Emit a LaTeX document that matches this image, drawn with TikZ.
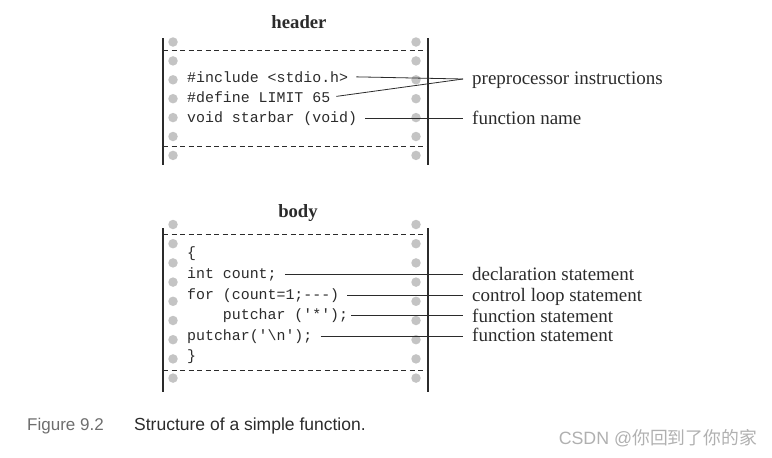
\documentclass[tikz,border=0pt]{standalone}
\usepackage{fontspec}
\setmainfont{Liberation Serif}
\setsansfont{Liberation Sans}
\setmonofont{Liberation Mono}
\newfontfamily\cjkfont{Noto Sans CJK SC}
\usetikzlibrary{positioning, calc}
\usepackage{xcolor}
\definecolor{InkDark}{HTML}{2B2B2B}
\definecolor{DotGray}{HTML}{C4C4C4}
\definecolor{CapGray}{HTML}{6E6E6E}
\tikzset{
  title/.style={font=\fontsize{18.7}{21}\selectfont\bfseries, text=InkDark, inner sep=0pt},
  code/.style={font=\fontsize{14.9}{17}\selectfont\ttfamily, text=InkDark, anchor=base west, inner sep=0pt},
  note/.style={font=\fontsize{19}{22}\selectfont, text=InkDark, anchor=base west, inner sep=0pt},
  hole/.style={circle, fill=DotGray, inner sep=0pt, minimum size=9.5pt},
  edge/.style={draw=InkDark, line width=1.1pt},
  cut/.style={draw=InkDark, line width=0.9pt, dash pattern=on 5pt off 3.5pt},
  link/.style={draw=InkDark, line width=0.8pt, shorten <=8pt},
}

\begin{document}
\begin{tikzpicture}[x=1pt, y=-1pt]
    \useasboundingbox (0,0) rectangle (772,458);
    % header strip
    \node[title] (hdr) at (299,22) {header};
    \foreach \y in {42,60.9,79.8,98.7,117.6,136.5,155.4} {
      \node[hole] at (173,\y) {};
      \node[hole] at (416,\y) {};
    }
    \draw[edge] (163,38) -- (163,165);
    \draw[edge] (428,38) -- (428,165);
    \draw[cut] (163,50) -- (428,50);
    \draw[cut] (163,146) -- (428,146);
    \node[code] (inc) at (187,82) {\#include <stdio.h>};
    \node[code] (def) at (187,102.5) {\#define LIMIT 65};
    \node[code] (fn) at (187,122.5) {void starbar (void)};
    \coordinate (pp) at (463,79);
    \node[note] (ppi) at (472,84) {preprocessor instructions};
    \node[note] (fnn) at (472,124) {function name};
    \draw[link] (inc.east) -- (pp);
    \draw[link, shorten <=6pt] (def.east) -- (pp);
    \draw[link] (fn.east) -- (fn.east -| pp);

    % body strip
    \node[title] (bdy) at (298,213) {body};
    \foreach \y in {224.5,243.7,262.9,282.1,301.3,320.5,339.7,358.9,378.1} {
      \node[hole] at (173,\y) {};
      \node[hole] at (416,\y) {};
    }
    \draw[edge] (163,228) -- (163,392);
    \draw[edge] (428,228) -- (428,392);
    \draw[cut] (163,234.5) -- (428,234.5);
    \draw[cut] (163,370) -- (428,370);
    \node[code] (lb) at (187,257.5) {\{};
    \node[code] (decl) at (187,278) {int count;};
    \node[code] (loop) at (187,299) {for (count=1;---)};
    \node[code] (pc) at (187,319.5) {\ \ \ \ putchar ('*');};
    \node[code] (nl) at (187,340) {putchar('\textbackslash n');};
    \node[code] (rb) at (187,360.5) {\}};
    \node[note] (dcl) at (472,280) {declaration statement};
    \node[note] (cls) at (472,301) {control loop statement};
    \node[note] (fs1) at (472,322) {function statement};
    \node[note] (fs2) at (472,341) {function statement};
    \draw[link] (decl.east) -- (decl.east -| pp);
    \draw[link] (loop.east) -- (loop.east -| pp);
    \draw[link, shorten <=3pt] (pc.east) -- (pc.east -| pp);
    \draw[link] (nl.east) -- (nl.east -| pp);

    % caption and mark
    \node[font=\fontsize{17}{20}\selectfont\sffamily, text=CapGray, anchor=west, inner sep=0pt] (fig) at (27,426) {Figure 9.2};
    \node[font=\fontsize{17.5}{20}\selectfont\sffamily, text=InkDark, anchor=west, inner sep=0pt] (cap) at (134,426) {Structure of a simple function.};
    \node[font=\fontsize{17.8}{20}\selectfont\sffamily, text=DotGray!90!black, anchor=east, inner sep=0pt] (mark) at (757,438) {CSDN @{\cjkfont 你回到了你的家}};
  \end{tikzpicture}
\end{document}
